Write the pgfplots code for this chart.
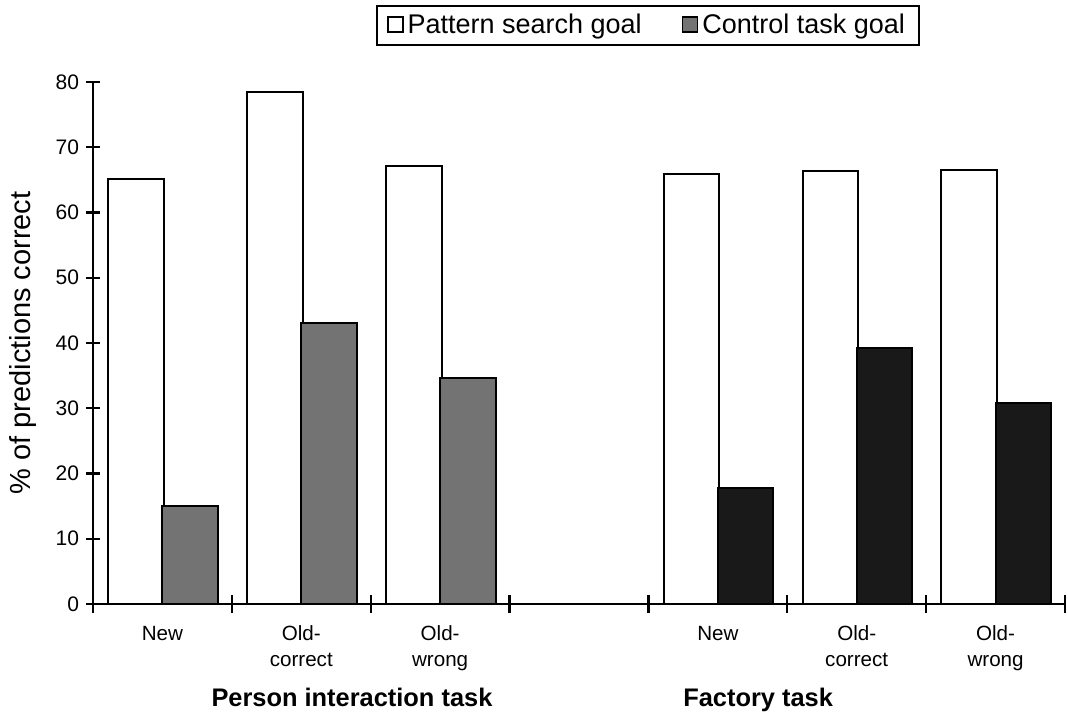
\documentclass[border=0pt]{standalone}
\usepackage{pgfplots}
\pgfplotsset{compat=1.18}
\usepackage{fontspec}
\setmainfont{Liberation Sans}
\begin{document}
\begin{tikzpicture}
\useasboundingbox (-46.5pt,-56pt) rectangle (487.5pt,302pt);
\begin{axis}[
  scale only axis,
  width=486pt, height=261pt,
  xmin=0, xmax=7, ymin=0, ymax=80,
  axis lines*=left,
  axis line style={line width=1.2pt},
  ytick={0,10,...,80},
  /pgf/number format/assume math mode=true,
  yticklabel style={font=\fontsize{10.5}{12}\selectfont},
  xtick={0.5,1.5,2.5,4.5,5.5,6.5},
  xticklabels={New, Old-\\correct, Old-\\wrong, New, Old-\\correct, Old-\\wrong},
  xticklabel style={align=center, font=\fontsize{10.3}{13}\selectfont, yshift=-4pt},
  minor xtick={0,1,...,7},
  tick align=center,
  major tick length=7pt,
  minor tick length=9pt,
  every major x tick/.append style={draw=none},
  tick style={line width=1.1pt, black},
  ylabel={\% of predictions correct},
  every axis y label/.style={at={([xshift=-35pt]rel axis cs:0,0.5)}, rotate=90, anchor=center,
    font=\fontsize{14.5}{16}\selectfont},
  legend style={at={(0.571,1.1475)}, anchor=north, draw=black, line width=1.1pt,
    font=\fontsize{13.5}{15}\selectfont, inner xsep=5pt, inner ysep=2pt,
    /tikz/every even column/.append style={column sep=18pt}},
  legend columns=2,
  legend image code/.code={\draw[#1, line width=0.8pt] (0pt,-3.2pt) rectangle (7.5pt,4.3pt);},
  clip=false,
]
% Pattern search goal
\addplot[ybar, bar width=0.4, bar shift=0pt, draw=black, line width=1pt, fill=white]
  coordinates {(0.31,65.1) (1.31,78.4) (2.31,67.1) (4.31,65.9) (5.31,66.3) (6.31,66.5)};
\addlegendentry{Pattern search goal}
% Control task goal (person interaction)
\addplot[ybar, bar width=0.4, bar shift=0pt, draw=black, line width=1pt, fill=black!55]
  coordinates {(0.70,15.0) (1.70,43.1) (2.70,34.7)};
\addlegendentry{Control task goal}
% Control task goal (factory)
\addplot[ybar, bar width=0.4, bar shift=0pt, draw=black, line width=1pt, fill=black!90, forget plot]
  coordinates {(4.70,17.8) (5.70,39.3) (6.70,30.8)};
\node[font=\bfseries\fontsize{12.7}{15}\selectfont, anchor=base] at (axis cs:1.865,0) [yshift=-51pt] {Person interaction task};
\node[font=\bfseries\fontsize{12.7}{15}\selectfont, anchor=base] at (axis cs:4.79,0) [yshift=-51pt] {Factory task};
\end{axis}
\end{tikzpicture}
\end{document}
